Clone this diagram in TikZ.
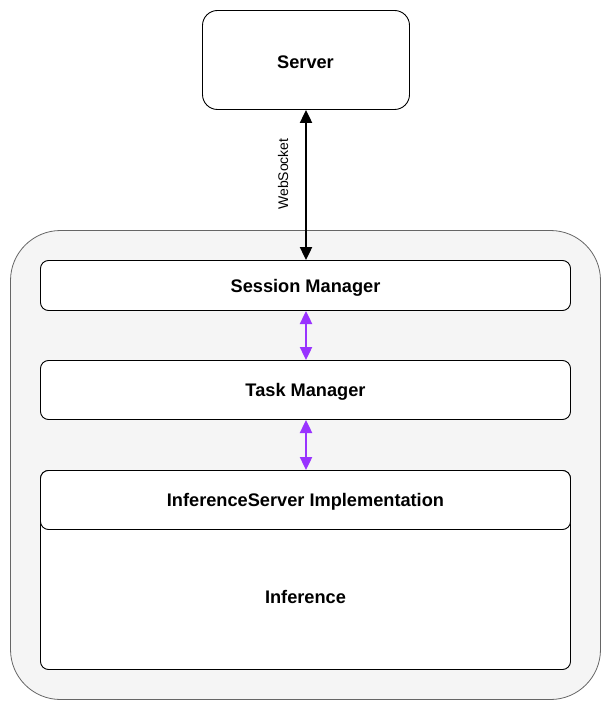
\documentclass[tikz,border=0pt]{standalone}
\usepackage{fontspec}
\setmainfont{Liberation Sans}
\usetikzlibrary{arrows.meta}
\definecolor{outerfill}{HTML}{F5F5F5}
\definecolor{outerdraw}{HTML}{666666}
\definecolor{purplearr}{HTML}{9933FF}
\begin{document}
\begin{tikzpicture}[x=1pt,y=-1pt,
  box/.style={draw=black, fill=white, line width=0.9pt, rounded corners=8pt},
  lbl/.style={font=\bfseries\fontsize{18.2}{21}\selectfont},
  dblarr/.style={line width=2.4pt, {Triangle[length=13pt,width=12pt]}-{Triangle[length=13pt,width=12pt]}}
]
\useasboundingbox (0,0) rectangle (611,711);
% outer container
\draw[fill=outerfill, draw=outerdraw, line width=0.8pt, rounded corners=50pt] (10.5,230.5) rectangle (600.5,699.5);
% server
\draw[box, rounded corners=15pt] (202.5,10.5) rectangle (409.5,109.5);
\node[lbl] (server) at (305.5,62) {Server};
\coordinate (srvb) at (306,110);
% session manager
\draw[box] (40.5,260.5) rectangle (570.5,310.5);
\node[lbl] (session) at (305.5,287.5) {Session Manager};
\coordinate (sesst) at (306,260);
\coordinate (sessb) at (306,311);
% task manager
\draw[box] (40.5,360.5) rectangle (570.5,419.5);
\node[lbl] (task) at (305.5,391.5) {Task Manager};
\coordinate (taskt) at (306,360);
\coordinate (taskb) at (306,420);
% inference
\draw[box] (40.5,470.5) rectangle (570.5,669.5);
\node[lbl] (inference) at (305.5,597) {Inference};
\draw[box] (40.5,470.5) rectangle (570.5,529.5);
\node[lbl] (impl) at (305.5,501.5) {InferenceServer Implementation};
\coordinate (implt) at (306,470);
% connectors
\draw[dblarr, black] (srvb) -- (sesst);
\node[rotate=90, font=\fontsize{14}{16}\selectfont] (wslabel) at (283,174) {WebSocket};
\draw[dblarr, purplearr] (sessb) -- (taskt);
\draw[dblarr, purplearr] (taskb) -- (implt);
\end{tikzpicture}
\end{document}
